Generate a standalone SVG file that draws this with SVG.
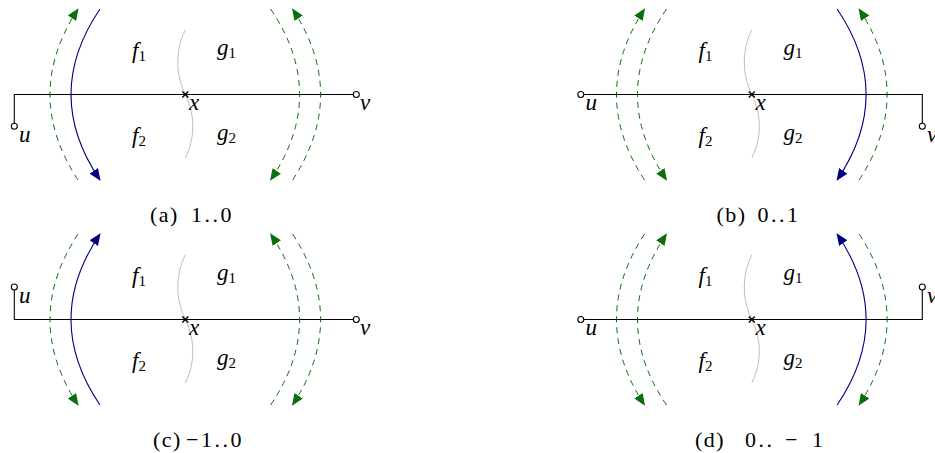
<svg xmlns="http://www.w3.org/2000/svg" width="935" height="453" viewBox="0 0 935 453">
<style>
.edge{fill:none;stroke:#000;stroke-width:1.1}
.sep{fill:none;stroke:#bdbdbd;stroke-width:1}
.gd{fill:none;stroke:#0a6e0a;stroke-width:1;stroke-dasharray:6 5;marker-end:url(#ag)}
.bl{fill:none;stroke:#000080;stroke-width:1.1;marker-end:url(#ab)}
.pt{fill:#fff;stroke:#000;stroke-width:1.1}
.cr{fill:none;stroke:#000;stroke-width:1.4}
.m{font-family:"Liberation Serif",serif;font-style:italic;font-size:23px;fill:#000}
.sub{font-style:normal;font-size:15px}
.cap{font-family:"Liberation Serif",serif;font-size:22px;letter-spacing:1.5px;fill:#000}
</style>
<defs>
<marker id="ag" viewBox="0 0 12 10" refX="11" refY="5" markerWidth="12" markerHeight="10" markerUnits="userSpaceOnUse" orient="auto"><path d="M0,0 L12,5 L0,10 z" fill="#0a6e0a"/></marker>
<marker id="ab" viewBox="0 0 12 10" refX="11" refY="5" markerWidth="12" markerHeight="10" markerUnits="userSpaceOnUse" orient="auto"><path d="M0,0 L12,5 L0,10 z" fill="#000080"/></marker>
</defs>

<!-- Panel (a) -->
<g id="panel-a">
<g id="a-connectors">
<path class="edge" d="M14.3,126.3 V94.5 H356.3"/>
<path class="sep" d="M185.3,30 C175.3,50 175.3,74 185.3,94.5 C195.3,115 195.3,138 185.3,158"/>
<path class="gd" d="M78,180 Q22,94.5 78,9"/>
<path class="bl" d="M100,9 Q42,94.5 100,180"/>
<path class="gd" d="M270.6,9 Q328.6,94.5 270.6,180"/>
<path class="gd" d="M292.6,180 Q348.6,94.5 292.6,9"/>
</g>
<g id="a-u"><circle class="pt" cx="14.3" cy="126.3" r="3"/><text class="m" x="19" y="141.5">u</text></g>
<g id="a-v"><circle class="pt" cx="356.3" cy="94.5" r="3"/><text class="m" x="360" y="109.5">v</text></g>
<g id="a-x"><path class="cr" d="M182.3,91.5 L188.3,97.5 M188.3,91.5 L182.3,97.5"/><text class="m" x="189" y="110">x</text></g>
<g id="a-f1"><text class="m" x="132" y="57.5">f<tspan class="sub" dy="3">1</tspan></text></g>
<g id="a-g1"><text class="m" x="217" y="55">g<tspan class="sub" dy="3">1</tspan></text></g>
<g id="a-f2"><text class="m" x="132" y="142.5">f<tspan class="sub" dy="3">2</tspan></text></g>
<g id="a-g2"><text class="m" x="217" y="140">g<tspan class="sub" dy="3">2</tspan></text></g>
<text class="cap" x="150" y="222">(a) <tspan x="191" letter-spacing="2.5">1..0</tspan></text>
</g>

<!-- Panel (b) -->
<g id="panel-b" transform="translate(566.5,0)">
<g id="b-connectors">
<path class="edge" d="M14.3,94.5 H355.8 V126.3"/>
<path class="sep" d="M185.3,30 C175.3,50 175.3,74 185.3,94.5 C195.3,115 195.3,138 185.3,158"/>
<path class="gd" d="M78,180 Q22,94.5 78,9"/>
<path class="gd" d="M100,9 Q42,94.5 100,180"/>
<path class="bl" d="M270.6,9 Q328.6,94.5 270.6,180"/>
<path class="gd" d="M292.6,180 Q348.6,94.5 292.6,9"/>
</g>
<g id="b-u"><circle class="pt" cx="14.3" cy="94.5" r="3"/><text class="m" x="19" y="110">u</text></g>
<g id="b-v"><circle class="pt" cx="355.8" cy="126.3" r="3"/><text class="m" x="360.5" y="141.5">v</text></g>
<g id="b-x"><path class="cr" d="M182.3,91.5 L188.3,97.5 M188.3,91.5 L182.3,97.5"/><text class="m" x="189" y="110">x</text></g>
<g id="b-f1"><text class="m" x="132" y="57.5">f<tspan class="sub" dy="3">1</tspan></text></g>
<g id="b-g1"><text class="m" x="217" y="55">g<tspan class="sub" dy="3">1</tspan></text></g>
<g id="b-f2"><text class="m" x="132" y="142.5">f<tspan class="sub" dy="3">2</tspan></text></g>
<g id="b-g2"><text class="m" x="217" y="140">g<tspan class="sub" dy="3">2</tspan></text></g>
<text class="cap" x="150" y="222">(b) <tspan x="191" letter-spacing="2.5">0..1</tspan></text>
</g>

<!-- Panel (c) -->
<g id="panel-c" transform="translate(0,225)">
<g id="c-connectors">
<path class="edge" d="M14.3,62 V94.5 H356.3"/>
<path class="sep" d="M185.3,30 C175.3,50 175.3,74 185.3,94.5 C195.3,115 195.3,138 185.3,158"/>
<path class="gd" d="M78,9 Q22,94.5 78,180"/>
<path class="bl" d="M100,180 Q42,94.5 100,9"/>
<path class="gd" d="M270.6,180 Q328.6,94.5 270.6,9"/>
<path class="gd" d="M292.6,9 Q348.6,94.5 292.6,180"/>
</g>
<g id="c-u"><circle class="pt" cx="14.3" cy="62" r="3"/><text class="m" x="19" y="78">u</text></g>
<g id="c-v"><circle class="pt" cx="356.3" cy="94.5" r="3"/><text class="m" x="360" y="109.5">v</text></g>
<g id="c-x"><path class="cr" d="M182.3,91.5 L188.3,97.5 M188.3,91.5 L182.3,97.5"/><text class="m" x="189" y="110">x</text></g>
<g id="c-f1"><text class="m" x="132" y="57.5">f<tspan class="sub" dy="3">1</tspan></text></g>
<g id="c-g1"><text class="m" x="217" y="55">g<tspan class="sub" dy="3">1</tspan></text></g>
<g id="c-f2"><text class="m" x="132" y="142.5">f<tspan class="sub" dy="3">2</tspan></text></g>
<g id="c-g2"><text class="m" x="217" y="140">g<tspan class="sub" dy="3">2</tspan></text></g>
<text class="cap" x="153" y="222">(c) <tspan x="186" letter-spacing="2.5">−1..0</tspan></text>
</g>

<!-- Panel (d) -->
<g id="panel-d" transform="translate(566.5,225)">
<g id="d-connectors">
<path class="edge" d="M14.3,94.5 H355.8 V62"/>
<path class="sep" d="M185.3,30 C175.3,50 175.3,74 185.3,94.5 C195.3,115 195.3,138 185.3,158"/>
<path class="gd" d="M78,9 Q22,94.5 78,180"/>
<path class="gd" d="M100,180 Q42,94.5 100,9"/>
<path class="bl" d="M270.6,180 Q328.6,94.5 270.6,9"/>
<path class="gd" d="M292.6,9 Q348.6,94.5 292.6,180"/>
</g>
<g id="d-u"><circle class="pt" cx="14.3" cy="94.5" r="3"/><text class="m" x="19" y="110">u</text></g>
<g id="d-v"><circle class="pt" cx="355.8" cy="62" r="3"/><text class="m" x="360.5" y="78">v</text></g>
<g id="d-x"><path class="cr" d="M182.3,91.5 L188.3,97.5 M188.3,91.5 L182.3,97.5"/><text class="m" x="189" y="110">x</text></g>
<g id="d-f1"><text class="m" x="132" y="57.5">f<tspan class="sub" dy="3">1</tspan></text></g>
<g id="d-g1"><text class="m" x="217" y="55">g<tspan class="sub" dy="3">1</tspan></text></g>
<g id="d-f2"><text class="m" x="132" y="142.5">f<tspan class="sub" dy="3">2</tspan></text></g>
<g id="d-g2"><text class="m" x="217" y="140">g<tspan class="sub" dy="3">2</tspan></text></g>
<text class="cap" x="128.5" y="222">(d) <tspan x="178.5" letter-spacing="2.5">0..</tspan> <tspan x="218.5">−</tspan> <tspan x="245.5">1</tspan></text>
</g>
</svg>
